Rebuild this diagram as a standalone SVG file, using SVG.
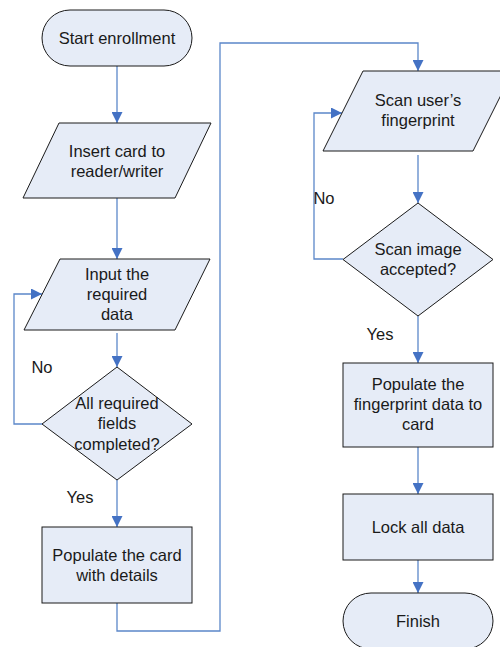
<svg xmlns="http://www.w3.org/2000/svg" width="500" height="647" viewBox="0 0 500 647">
<style>
.n{fill:#E6ECF7;stroke:#1a1a1a;stroke-width:1}
.t{font-family:"Liberation Sans",Arial,sans-serif;font-size:16.5px;fill:#1a1a1a;text-anchor:middle;dominant-baseline:central}
.c{fill:none;stroke:#5B87C9;stroke-width:1.3}
</style>
<defs>
<marker id="a" markerUnits="userSpaceOnUse" markerWidth="11" markerHeight="11" refX="11" refY="5.5" orient="auto">
<path d="M0,0 L11,5.5 L0,11 z" fill="#4472C4"/>
</marker>
</defs>
<rect width="500" height="647" fill="#fff"/>
<g id="connectors">
<path class="c" d="M117,66 V123" marker-end="url(#a)"/>
<path class="c" d="M117,198 V259" marker-end="url(#a)"/>
<path class="c" d="M117,333 V367" marker-end="url(#a)"/>
<path class="c" d="M42,424 H14 V294 H42" marker-end="url(#a)"/>
<path class="c" d="M117,480 V527" marker-end="url(#a)"/>
<path class="c" d="M117,603 V631 H220 V43 H418 V71" marker-end="url(#a)"/>
<path class="c" d="M418,155 V203" marker-end="url(#a)"/>
<path class="c" d="M343,259 H314 V113 H342" marker-end="url(#a)"/>
<path class="c" d="M418,316 V363" marker-end="url(#a)"/>
<path class="c" d="M418,447 V494" marker-end="url(#a)"/>
<path class="c" d="M418,560 V593" marker-end="url(#a)"/>
<text class="t" x="42" y="367">No</text>
<text class="t" x="80" y="497">Yes</text>
<text class="t" x="324" y="198">No</text>
<text class="t" x="380" y="334">Yes</text>
</g>
<g id="start">
<rect class="n" x="42" y="10" width="150" height="56" rx="28" ry="28"/>
<text class="t" x="117" y="38">Start enrollment</text>
</g>
<g id="insert">
<polygon class="n" points="59,123 211,123 175,198 23,198"/>
<text class="t" x="117" y="151">Insert card to</text>
<text class="t" x="117" y="171">reader/writer</text>
</g>
<g id="input">
<polygon class="n" points="60,259 210,259 175,330 24,330"/>
<text class="t" x="117" y="274">Input the</text>
<text class="t" x="117" y="294">required</text>
<text class="t" x="117" y="314">data</text>
</g>
<g id="check">
<polygon class="n" points="117,367 192,424 117,480 42,424"/>
<text class="t" x="117" y="403">All required</text>
<text class="t" x="117" y="423">fields</text>
<text class="t" x="117" y="444">completed?</text>
</g>
<g id="populate">
<rect class="n" x="42" y="527" width="150" height="76"/>
<text class="t" x="117" y="555">Populate the card</text>
<text class="t" x="117" y="575">with details</text>
</g>
<g id="scan">
<polygon class="n" points="363,71 513,71 473,151 323,151"/>
<text class="t" x="418" y="100">Scan user’s</text>
<text class="t" x="418" y="120">fingerprint</text>
</g>
<g id="accepted">
<polygon class="n" points="418,203 493,259.5 418,316 343,259.5"/>
<text class="t" x="418" y="249">Scan image</text>
<text class="t" x="418" y="269">accepted?</text>
</g>
<g id="populatefp">
<rect class="n" x="343" y="363" width="150" height="84"/>
<text class="t" x="418" y="384">Populate the</text>
<text class="t" x="418" y="404">fingerprint data to</text>
<text class="t" x="418" y="424">card</text>
</g>
<g id="lock">
<rect class="n" x="343" y="494" width="150" height="66"/>
<text class="t" x="418" y="527">Lock all data</text>
</g>
<g id="finish">
<rect class="n" x="343" y="593" width="150" height="56" rx="28" ry="28"/>
<text class="t" x="418" y="621">Finish</text>
</g>
</svg>
